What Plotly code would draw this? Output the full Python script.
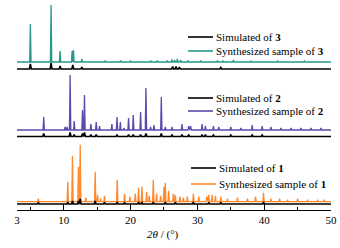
import plotly.graph_objects as go

# ---- data (2θ positions in degrees, relative intensities) ----
syn3_pos = [5.0, 8.1, 9.45, 11.25, 11.45, 12.7, 16.2, 18.5, 20.0, 23.0, 24.0, 25.5, 26.2, 26.6, 27.0, 27.5, 28.6, 30.5, 33.0, 33.8, 35.4, 38.0, 42.0, 46.0]
syn3_int = [38, 57, 11, 11, 12, 3, 1.5, 1.5, 1, 1.5, 1.5, 1.5, 2.5, 2, 3, 2, 1.5, 1.5, 1.5, 1.5, 2, 1, 1, 1]
sim3_pos = [5.0, 8.1, 9.45, 11.35, 12.7, 26.3, 26.8, 27.3, 33.5]
sim3_int = [5, 6, 3, 4, 2, 2.5, 2.5, 2, 1.5]

syn2_pos = [7.0, 10.2, 10.5, 10.95, 11.56, 12.8, 13.1, 14.06, 14.86, 15.36, 17.2, 17.97, 18.47, 19.0, 19.7, 20.4, 21.5, 22.3, 23.0, 23.5, 24.6, 25.2, 26.2, 27.7, 28.7, 29.0, 30.7, 31.2, 32.4, 33.2, 35.0, 36.5, 38.2, 39.7, 41.0, 42.5, 44.0, 45.5, 47.0, 48.5]
syn2_int = [13, 3, 3, 55, 9, 20, 35, 6, 8, 4, 6, 13, 8, 2, 12, 15, 18, 42, 3, 5, 33, 3, 3, 6, 4, 4, 6, 4, 4, 3, 3, 2, 5, 4, 3, 2, 2, 2, 2, 2]
sim2_pos = [7.0, 10.95, 11.56, 12.8, 13.1, 14.06, 14.86, 17.97, 19.7, 20.4, 21.5, 22.3, 24.6, 26.2, 27.7, 28.7, 30.7, 31.2, 32.4, 35.0, 38.2, 39.7]
sim2_int = [3, 4, 2, 3, 4, 2, 2, 2, 2, 2, 2, 3, 3, 1.5, 2, 1.5, 2, 2, 1.5, 1.5, 1.5, 1.5]

syn1_pos = [6.2, 10.6, 11.3, 12.2, 12.46, 13.3, 14.7, 15.06, 15.5, 16.1, 18.0, 19.1, 19.9, 20.7, 21.2, 21.7, 22.4, 22.8, 23.4, 23.9, 24.5, 25.0, 25.2, 25.7, 26.4, 26.7, 27.4, 27.9, 28.5, 29.4, 30.2, 31.4, 31.7, 32.2, 32.7, 33.5, 34.5, 36.0, 37.5, 38.7, 39.9, 41.0, 42.3, 43.5, 45.0, 46.5, 48.0, 49.0]
syn1_int = [3, 20, 46, 35, 57, 4, 30, 7, 3, 6, 22, 8, 5, 8, 14, 15, 10, 6, 22, 8, 6, 15, 19, 11, 8, 7, 5, 4, 5, 8, 5, 5, 7, 7, 6, 5, 3, 4, 3, 5, 9, 3, 3, 2, 3, 2, 2, 2]
sim1_pos = [6.2, 10.6, 11.3, 12.2, 12.46, 14.7, 16.1, 18.0, 19.1, 21.2, 21.7, 23.4, 25.2, 26.7, 29.4, 31.7, 33.5, 39.9]
sim1_int = [1.5, 2, 3, 3, 5, 3, 1.5, 2, 1.5, 2, 2, 2, 2, 1.5, 2, 1.5, 1.5, 2]

offsets = {"sim3": 141, "syn3": 148, "sim2": 73.5, "syn2": 80, "sim1": 6, "syn1": 8.3}
x_ticks = [3, 10, 20, 30, 40, 50]
x_minor = [5, 15, 25, 35, 45]

C_TEAL = "#26978b"
C_PURPLE = "#5b4bad"
C_ORANGE = "#ff8a2e"
FONT = "Liberation Serif"


def profile(pos, inten, base, hw=0.1):
    xs, ys = [3.0], [base]
    for p, h in sorted(zip(pos, inten)):
        xs += [p - hw, p, p + hw]
        ys += [base, base + h, base]
    xs.append(50.0)
    ys.append(base)
    return xs, ys


fig = go.Figure()
series = [
    (sim3_pos, sim3_int, offsets["sim3"], "black", 1.6, 0.14),
    (syn3_pos, syn3_int, offsets["syn3"], C_TEAL, 1.3, 0.1),
    (sim2_pos, sim2_int, offsets["sim2"], "black", 1.6, 0.14),
    (syn2_pos, syn2_int, offsets["syn2"], C_PURPLE, 1.3, 0.1),
    (syn1_pos, syn1_int, offsets["syn1"], C_ORANGE, 1.3, 0.1),
    (sim1_pos, sim1_int, offsets["sim1"], "black", 1.6, 0.12),
]
for pos, inten, base, col, w, hw in series:
    xs, ys = profile(pos, inten, base, hw)
    fig.add_trace(go.Scatter(x=xs, y=ys, mode="lines", line=dict(color=col, width=w),
                             showlegend=False, hoverinfo="skip"))

L, R, T, B = 17, 9, 0, 38
W, H = 340, 248
PW, PH = W - L - R, H - T - B


def px(x):
    return (x - L) / PW


def py(y):
    return (H - B - y) / PH


legends = [
    (188, 213, 37, "black", "Simulated of <b>3</b>"),
    (188, 213, 51, C_TEAL, "Synthesized sample of <b>3</b>"),
    (188, 213, 98, "black", "Simulated of <b>2</b>"),
    (188, 213, 111, C_PURPLE, "Synthesized sample of <b>2</b>"),
    (191, 216, 168, "black", "Simulated of <b>1</b>"),
    (191, 216, 184, C_ORANGE, "Synthesized sample of <b>1</b>"),
]
for x0, x1, y, col, txt in legends:
    fig.add_shape(type="line", xref="paper", yref="paper", x0=px(x0), x1=px(x1),
                  y0=py(y), y1=py(y), line=dict(color=col, width=1.6))
    fig.add_annotation(xref="paper", yref="paper", x=px(x1 + 1), y=py(y), text=txt,
                       showarrow=False, xanchor="left", yanchor="middle",
                       font=dict(family=FONT, size=11, color="black"))

fig.add_annotation(xref="paper", yref="paper", x=px(163), y=py(234),
                   text="<i>2θ</i> / (°)", showarrow=False, xanchor="center",
                   yanchor="middle", font=dict(family=FONT, size=11, color="black"))

fig.update_layout(
    width=W, height=H, margin=dict(l=L, r=R, t=T, b=B, autoexpand=False),
    paper_bgcolor="white", plot_bgcolor="white",
    font=dict(family=FONT, size=11, color="black"),
    xaxis=dict(range=[3, 50], tickvals=x_ticks, ticktext=[str(v) for v in x_ticks],
               ticks="inside", ticklen=6, tickwidth=1, tickcolor="black",
               showline=True, linecolor="black", linewidth=1, showgrid=False,
               zeroline=False, fixedrange=True, automargin=False,
               minor=dict(tickvals=x_minor, ticks="inside", ticklen=3,
                          tickcolor="black", tickwidth=1, showgrid=False),
               tickfont=dict(family=FONT, size=11, color="black")),
    yaxis=dict(range=[0, PH], visible=False, showgrid=False, zeroline=False,
               fixedrange=True, automargin=False),
)

fig.write_html("out.html", config={"displayModeBar": False},
               post_script="document.body.style.margin='0px';document.body.style.overflow='hidden';")
